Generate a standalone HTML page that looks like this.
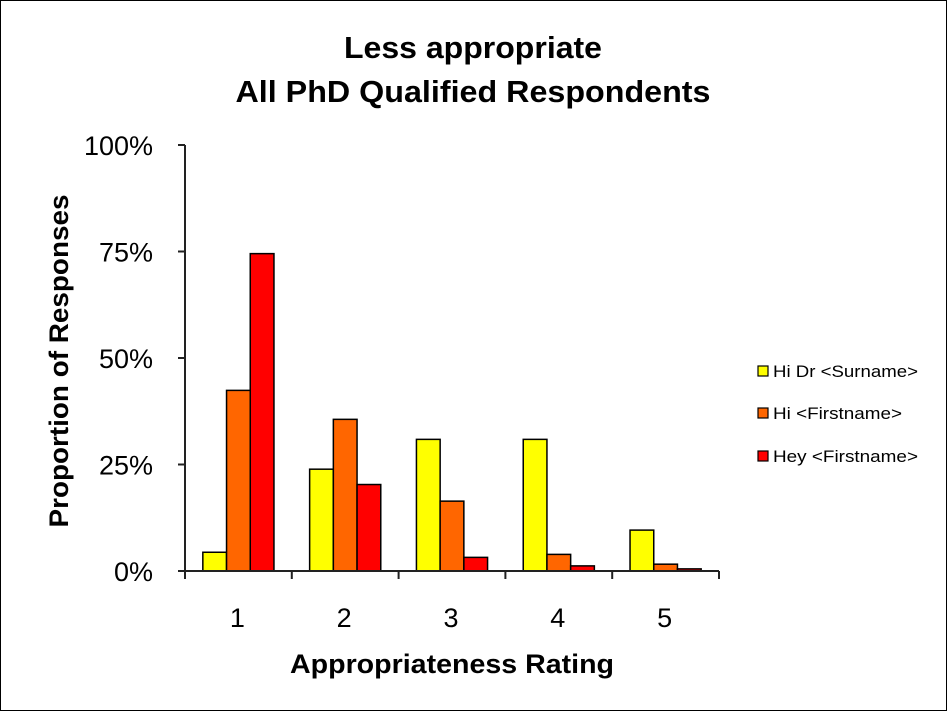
<!DOCTYPE html>
<html><head><meta charset="utf-8"><style>
body{margin:0;background:#fff}
svg{display:block;font-family:"Liberation Sans",sans-serif}
</style></head><body>
<svg id="chart" width="947" height="711" viewBox="0 0 947 711">
<rect x="0.5" y="0.5" width="946" height="710" fill="#fff" stroke="#000"/>
<text x="473" y="58" text-anchor="middle" font-size="31" font-weight="bold" textLength="258" lengthAdjust="spacingAndGlyphs">Less appropriate</text>
<text x="473" y="102" text-anchor="middle" font-size="31" font-weight="bold" textLength="475" lengthAdjust="spacingAndGlyphs">All PhD Qualified Respondents</text>
<text transform="translate(68,361) rotate(-90)" text-anchor="middle" font-size="27" font-weight="bold" textLength="333" lengthAdjust="spacingAndGlyphs">Proportion of Responses</text>
<text x="452" y="673" text-anchor="middle" font-size="27" font-weight="bold" textLength="324" lengthAdjust="spacingAndGlyphs">Appropriateness Rating</text>
<g id="bars"></g>
<g id="axes"></g>
<g id="legend"></g>
</svg>
<script>
const categories = ["1","2","3","4","5"];
const seriesNames = ["Hi Dr <Surname>","Hi <Firstname>","Hey <Firstname>"];
const hiDr = [4.4, 23.9, 30.9, 30.9, 9.6];
const hiFirst = [42.4, 35.6, 16.4, 3.9, 1.6];
const heyFirst = [74.5, 20.3, 3.2, 1.2, 0.5];
const yTicks = [0, 25, 50, 75, 100];
const yTickLabels = ["0%","25%","50%","75%","100%"];

const colors = ["#ffff00","#ff6600","#ff0000"];
const series = [hiDr, hiFirst, heyFirst];
const X0 = 185, X1 = 719, Y0 = 571, Y1 = 145;
const band = (X1 - X0) / categories.length;
const barW = band * 0.222;
const y = v => Y0 - (v / 100) * (Y0 - Y1);
const xBand = i => X0 + i * band;
const NS = "http://www.w3.org/2000/svg";
function mk(tag, attrs, parent){const e=document.createElementNS(NS,tag);for(const k in attrs)e.setAttribute(k,attrs[k]);parent.appendChild(e);return e;}

const bars = document.getElementById("bars");
series.forEach((vals, s) => {
  vals.forEach((v, i) => {
    const bx = xBand(i) + band/2 - 1.5*barW + s*barW;
    const r = mk("rect", {x: bx, y: y(v), width: barW, height: Y0 - y(v), fill: colors[s], stroke: "#000", "stroke-width": 1.5}, bars);
    
    
  });
});

const axes = document.getElementById("axes");
const ya = mk("line", {x1: X0, y1: Y1, x2: X0, y2: Y0, stroke: "#222", "stroke-width": 2}, axes);


const xa = mk("line", {x1: X0, y1: Y0, x2: X1, y2: Y0, stroke: "#222", "stroke-width": 2}, axes);


yTicks.forEach((t, i) => {
  mk("line", {x1: X0 - 7, y1: y(t), x2: X0, y2: y(t), stroke: "#222", "stroke-width": 2}, axes);
  const tx = mk("text", {x: 153, y: y(t) + 10, "text-anchor": "end", "font-size": 27}, axes);
  tx.textContent = yTickLabels[i];
  
  
});
for (let i = 0; i <= categories.length; i++) {
  mk("line", {x1: xBand(i), y1: Y0, x2: xBand(i), y2: Y0 + 8, stroke: "#222", "stroke-width": 2}, axes);
}
categories.forEach((c, i) => {
  const tx = mk("text", {x: xBand(i) + band/2 - 1, y: 627, "text-anchor": "middle", "font-size": 27}, axes);
  tx.textContent = c;
  
  
});

const legend = document.getElementById("legend");
const ly = [371, 413, 456];
const legendW = [145, 129, 145];
seriesNames.forEach((n, s) => {
  const sw = mk("rect", {x: 758, y: ly[s] - 5, width: 10, height: 10, fill: colors[s], stroke: "#000", "stroke-width": 1.2}, legend);
  
  
  const tx = mk("text", {x: 773, y: ly[s] + 6, "font-size": 17, textLength: legendW[s], lengthAdjust: "spacingAndGlyphs"}, legend);
  tx.textContent = n;
  
  
});
</script>
</body></html>
